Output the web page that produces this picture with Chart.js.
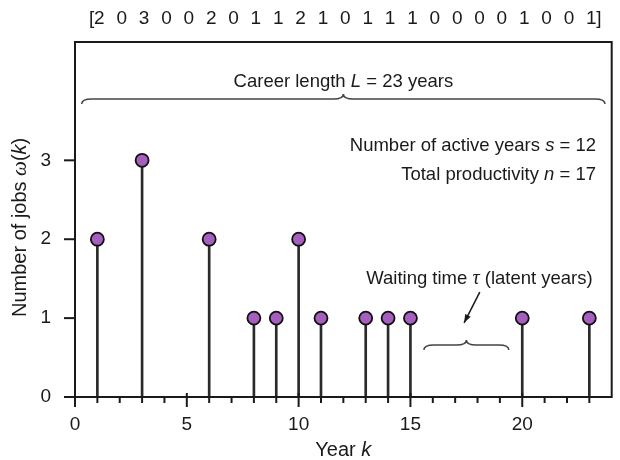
<!DOCTYPE html>
<html>
<head>
<meta charset="utf-8">
<script src="https://cdn.jsdelivr.net/npm/chart.js@4.4.0/dist/chart.umd.min.js"></script>
<style>
  html, body { margin: 0; padding: 0; background: #fff; }
  #wrap { width: 620px; height: 460px; }
</style>
</head>
<body>
<div id="wrap"><canvas id="jobsChart" width="620" height="460"></canvas></div>
<script>
// data
const years = [1, 3, 6, 8, 9, 10, 11, 13, 14, 15, 20, 23];
const jobs = [2, 3, 2, 1, 1, 2, 1, 1, 1, 1, 1, 1];
const sequence = [2, 0, 3, 0, 0, 2, 0, 1, 1, 2, 1, 0, 1, 1, 1, 0, 0, 0, 0, 1, 0, 0, 1];
const xTicks = [0, 1, 2, 3, 4, 5, 6, 7, 8, 9, 10, 11, 12, 13, 14, 15, 16, 17, 18, 19, 20, 21, 22, 23];
const xTickLabels = [0, 5, 10, 15, 20];
const yTicks = [0, 1, 2, 3];

const FONT = '"Liberation Sans", Arial, Helvetica, sans-serif';
const SERIF = '"Liberation Serif", "DejaVu Serif", serif';
const INK = '#1a1a1a';

function drawMixed(ctx, parts, x, y, align) {
  let total = 0;
  parts.forEach(p => { ctx.font = p[1]; total += ctx.measureText(p[0]).width; });
  let cx = x;
  if (align === 'center') cx = x - total / 2;
  if (align === 'right') cx = x - total;
  ctx.textAlign = 'left';
  parts.forEach(p => {
    ctx.font = p[1];
    ctx.fillText(p[0], cx, y);
    cx += ctx.measureText(p[0]).width;
  });
}

function drawBrace(ctx, x1, x2, y, tipX, h) {
  ctx.beginPath();
  ctx.moveTo(x1, y + h);
  ctx.quadraticCurveTo(x1, y, x1 + h * 2, y);
  ctx.lineTo(tipX - h * 2, y);
  ctx.quadraticCurveTo(tipX, y, tipX, y - h);
  ctx.quadraticCurveTo(tipX, y, tipX + h * 2, y);
  ctx.lineTo(x2 - h * 2, y);
  ctx.quadraticCurveTo(x2, y, x2, y + h);
  ctx.stroke();
}

const regular = '18.5px ' + FONT;
const italic = 'italic 18.5px ' + FONT;
const serifItalic = 'italic 20px ' + SERIF;
const titleFont = '20px ' + FONT;
const titleItalic = 'italic 20px ' + FONT;

const decorations = {
  id: 'decorations',
  afterDraw(chart) {
    const ctx = chart.ctx;
    const a = chart.chartArea;
    const xs = chart.scales.x;
    const ys = chart.scales.y;
    ctx.save();
    ctx.strokeStyle = INK;
    ctx.fillStyle = INK;

    // frame
    ctx.lineWidth = 2;
    ctx.strokeRect(a.left, a.top, a.right - a.left, a.bottom - a.top);

    // x ticks
    xs.ticks.forEach(t => {
      const px = xs.getPixelForValue(t.value);
      const major = xTickLabels.includes(t.value);
      ctx.beginPath();
      ctx.moveTo(px, major ? a.bottom - 4 : a.bottom);
      ctx.lineTo(px, major ? a.bottom + 10 : a.bottom + 6);
      ctx.stroke();
    });
    // y ticks
    ys.ticks.forEach(t => {
      const py = ys.getPixelForValue(t.value);
      ctx.beginPath();
      ctx.moveTo(a.left - 11, py);
      ctx.lineTo(t.value === 0 ? a.left + 4 : a.left, py);
      ctx.stroke();
    });

    ctx.textBaseline = 'middle';

    // axis titles
    drawMixed(ctx, [['Year ', titleFont], ['k', titleItalic]], (a.left + a.right) / 2, 450, 'center');
    ctx.save();
    ctx.translate(20, ys.getPixelForValue(2.15));
    ctx.rotate(-Math.PI / 2);
    drawMixed(ctx, [['Number of jobs ', titleFont], ['\u03c9', 'italic 21px ' + SERIF], ['(', titleFont], ['k', titleItalic], [')', titleFont]], 0, 0, 'center');
    ctx.restore();

    // sequence across the top, one digit per year
    ctx.font = '19px ' + FONT;
    ctx.textAlign = 'center';
    sequence.forEach((v, i) => {
      ctx.fillText(String(v), xs.getPixelForValue(i + 1) + 2, 19);
    });
    ctx.textAlign = 'right';
    ctx.fillText('[', xs.getPixelForValue(1) - 3, 19);
    ctx.textAlign = 'left';
    ctx.fillText(']', xs.getPixelForValue(sequence.length) + 7, 19);

    // career length
    drawMixed(ctx, [['Career length ', regular], ['L', italic], [' = 23 years', regular]], xs.getPixelForValue(12), 82, 'center');
    ctx.strokeStyle = '#444';
    ctx.lineWidth = 1.5;
    drawBrace(ctx, xs.getPixelForValue(0.3), xs.getPixelForValue(23.7), 99, xs.getPixelForValue(12.0), 5);

    // summary
    const rx = xs.getPixelForValue(23.3);
    drawMixed(ctx, [['Number of active years ', regular], ['s', italic], [' = 12', regular]], rx, 146, 'right');
    drawMixed(ctx, [['Total productivity ', regular], ['n', italic], [' = 17', regular]], rx, 175, 'right');

    // waiting time
    drawMixed(ctx, [['Waiting time ', regular], ['\u03c4', serifItalic], [' (latent years)', regular]], xs.getPixelForValue(23.15), 279, 'right');
    drawBrace(ctx, xs.getPixelForValue(15.6), xs.getPixelForValue(19.4), ys.getPixelForValue(0.66), xs.getPixelForValue(17.5), 5);

    // arrow
    const x0 = xs.getPixelForValue(18.1), y0 = ys.getPixelForValue(1.33);
    const x1 = xs.getPixelForValue(17.4), y1 = ys.getPixelForValue(0.94);
    ctx.strokeStyle = INK;
    ctx.lineWidth = 1.5;
    ctx.beginPath();
    ctx.moveTo(x0, y0);
    ctx.lineTo(x1, y1);
    ctx.stroke();
    const ang = Math.atan2(y1 - y0, x1 - x0);
    ctx.beginPath();
    ctx.moveTo(x1, y1);
    ctx.lineTo(x1 - 9 * Math.cos(ang - 0.35), y1 - 9 * Math.sin(ang - 0.35));
    ctx.lineTo(x1 - 9 * Math.cos(ang + 0.35), y1 - 9 * Math.sin(ang + 0.35));
    ctx.closePath();
    ctx.fill();

    ctx.restore();
  }
};

const points = years.map((y, i) => ({ x: y, y: jobs[i] }));

new Chart(document.getElementById('jobsChart'), {
  data: {
    datasets: [
      {
        type: 'scatter',
        data: points,
        order: 0,
        pointRadius: 6.5,
        pointHoverRadius: 6.5,
        backgroundColor: '#a65fbe',
        borderColor: '#111',
        borderWidth: 1.8
      },
      {
        type: 'bar',
        data: points,
        order: 1,
        barThickness: 2,
        backgroundColor: '#2a2a2a',
        borderWidth: 0
      }
    ]
  },
  options: {
    responsive: false,
    animation: false,
    devicePixelRatio: 1,
    layout: { padding: { top: 42, right: 3, left: 0, bottom: 0 } },
    plugins: { legend: { display: false }, tooltip: { enabled: false } },
    scales: {
      x: {
        type: 'linear',
        min: 0,
        max: 24,
        offset: false,
        grid: { display: false, offset: false },
        border: { display: false },
        afterBuildTicks: s => { s.ticks = xTicks.map(v => ({ value: v })); },
        afterFit: s => { s.height = 63; },
        ticks: {
          autoSkip: false,
          maxRotation: 0,
          padding: 8,
          color: INK,
          font: { family: FONT, size: 19 },
          callback: v => xTickLabels.includes(v) ? String(v) : ''
        }
      },
      y: {
        min: 0,
        max: 4.5,
        grid: { display: false },
        border: { display: false },
        afterBuildTicks: s => { s.ticks = yTicks.map(v => ({ value: v })); },
        afterFit: s => { s.width = 75; },
        ticks: {
          padding: 16,
          color: INK,
          font: { family: FONT, size: 19 },
          callback: v => String(v)
        }
      }
    }
  },
  plugins: [decorations]
});
</script>
</body>
</html>
